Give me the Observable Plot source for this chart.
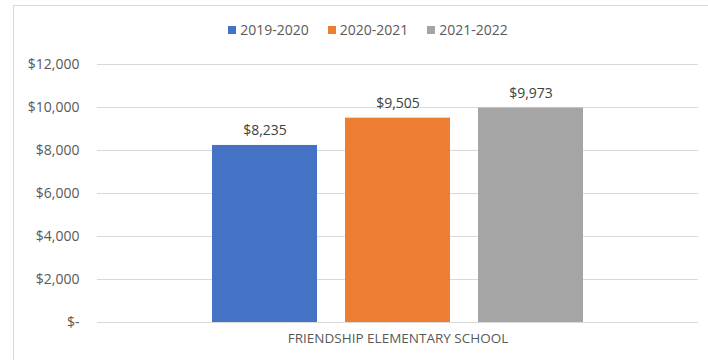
<!DOCTYPE html>
<html>
<head>
<meta charset="utf-8">
<script src="https://cdn.jsdelivr.net/npm/d3@7"></script>
<script src="https://cdn.jsdelivr.net/npm/@observablehq/plot@0.6"></script>
<style>
  html, body { margin: 0; padding: 0; background: #fff; }
  #wrap { position: relative; width: 708px; height: 360px; overflow: hidden; font-family: "Open Sans", sans-serif; }
  #frame { position: absolute; left: 13px; top: 5px; width: 700px; height: 400px; border: 1px solid #d9d9d9; box-sizing: border-box; }
  #legend { position: absolute; top: 20px; left: 14px; width: 708px; display: flex; justify-content: center; gap: 19px; font-size: 14px; color: #595959; }
  #legend span.item { display: flex; align-items: center; }
  #legend span.sw { display: inline-block; width: 8px; height: 8px; margin-right: 4px; }
  #chart { position: absolute; left: 0; top: 0; }
</style>
</head>
<body>
<div id="wrap">
  <div id="frame"></div>
  <div id="chart"></div>
  <div id="legend"></div>
</div>
<script>
const category = "FRIENDSHIP ELEMENTARY SCHOOL";
const series = ["2019-2020", "2020-2021", "2021-2022"];
const values = [8235, 9505, 9973];
const colors = ["#4472c4", "#ed7d31", "#a5a5a5"];
const yTicks = [0, 2000, 4000, 6000, 8000, 10000, 12000];

const data = series.map((s, i) => ({series: s, value: values[i]}));
const fmt = d => d === 0 ? "$-" : "$" + d3.format(",")(d);

const chart = Plot.plot({
  width: 708,
  height: 360,
  marginLeft: 97,
  marginRight: 10,
  marginTop: 64,
  marginBottom: 38,
  style: {fontFamily: "'Open Sans', sans-serif", fontSize: "13px", color: "#595959", background: "transparent"},
  x: {domain: series, range: [212, 584], paddingInner: 0.21, paddingOuter: 0, axis: null},
  y: {domain: [0, 12000], axis: null},
  color: {domain: series, range: colors},
  marks: [
    Plot.ruleY(yTicks, {stroke: "#d9d9d9", strokeWidth: 1}),
    Plot.barY(data, {x: "series", y: "value", fill: "series"}),
    Plot.text(data, {x: "series", y: "value", text: d => fmt(d.value), lineAnchor: "bottom", dy: -10, fill: "#404040", fontSize: 14}),
    Plot.text(yTicks, {y: d => d, text: d => fmt(d), frameAnchor: "left", textAnchor: "end", dx: -18, fill: "#595959", fontSize: 14}),
    Plot.text([category], {text: d => d, frameAnchor: "bottom", dy: 20, fill: "#595959", fontSize: 13.5})
  ]
});
document.getElementById("chart").appendChild(chart);

const legend = document.getElementById("legend");
series.forEach((s, i) => {
  const item = document.createElement("span");
  item.className = "item";
  const sw = document.createElement("span");
  sw.className = "sw";
  sw.style.background = colors[i];
  item.appendChild(sw);
  item.appendChild(document.createTextNode(s));
  legend.appendChild(item);
});
</script>
</body>
</html>
